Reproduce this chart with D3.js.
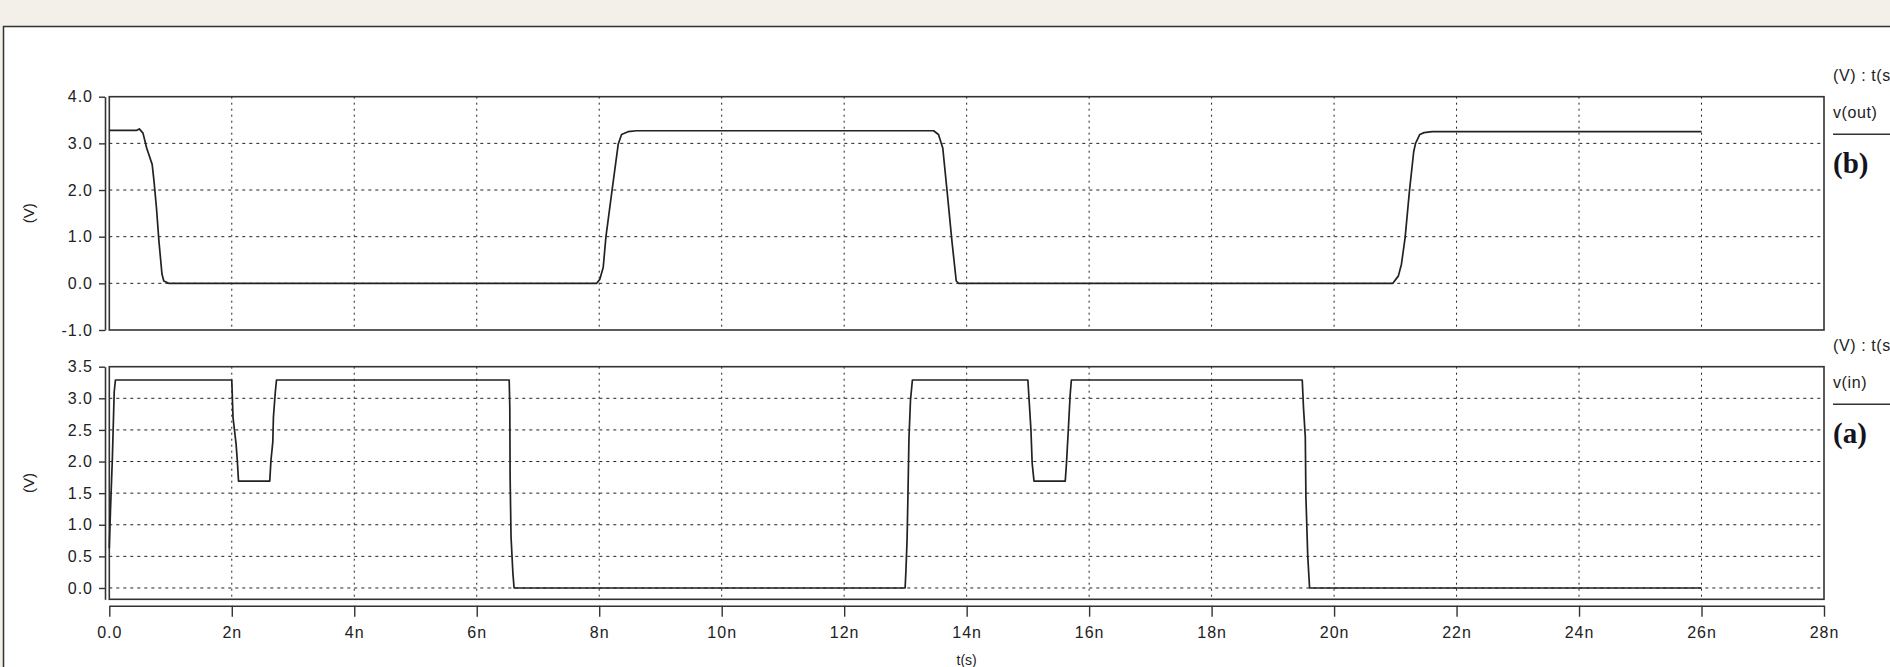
<!DOCTYPE html>
<html>
<head>
<meta charset="utf-8">
<script src="https://cdn.jsdelivr.net/npm/d3@7"></script>
<style>
  body { margin: 0; background: #f3f0e9; }
  svg { display: block; }
  text { font-family: "Liberation Sans", Arial, sans-serif; fill: #222; }
</style>
</head>
<body>
<div id="chart"></div>
<script>
// v(out) : time in ns, voltage in V
const tOut = [0, 0.45, 0.49, 0.55, 0.61, 0.7, 0.73, 0.77, 0.81, 0.86, 0.89, 0.97,
  7.96, 8.01, 8.065, 8.11, 8.21, 8.31, 8.365, 8.47, 8.61,
  13.46, 13.54, 13.61, 13.68, 13.76, 13.83, 13.87,
  20.96, 21.05, 21.1, 21.16, 21.23, 21.3, 21.33, 21.4, 21.47, 21.6, 26];
const vOut = [3.28, 3.28, 3.31, 3.22, 2.9, 2.55, 2.19, 1.62, 0.91, 0.2, 0.05, 0,
  0, 0.09, 0.34, 1.0, 2.0, 2.98, 3.19, 3.25, 3.27,
  3.27, 3.19, 2.9, 1.98, 0.9, 0.05, 0,
  0, 0.16, 0.41, 0.98, 1.97, 2.82, 3.0, 3.19, 3.23, 3.25, 3.25];

// v(in)
const tIn = [0, 0.02, 0.05, 0.08, 0.1,
  2.0, 2.02, 2.07, 2.09, 2.11, 2.62, 2.64, 2.67, 2.68, 2.71, 2.73,
  6.53, 6.54, 6.545, 6.56, 6.59, 6.61,
  12.995, 13.008, 13.027, 13.04, 13.058, 13.083, 13.114,
  15.0, 15.02, 15.05, 15.07, 15.1, 15.61, 15.63, 15.66, 15.69, 15.71,
  19.48, 19.5, 19.53, 19.54, 19.57, 19.6, 26];
const vIn = [0.63, 1.25, 2.05, 3.1, 3.29,
  3.29, 2.7, 2.28, 2.02, 1.69, 1.69, 2.02, 2.31, 2.7, 3.09, 3.29,
  3.29, 2.86, 1.76, 0.81, 0.24, 0,
  0, 0.26, 0.76, 1.39, 2.37, 2.97, 3.29,
  3.29, 2.97, 2.5, 1.97, 1.69, 1.69, 1.97, 2.5, 3.05, 3.29,
  3.29, 2.86, 2.39, 1.44, 0.5, 0, 0];

const xTicks = d3.range(0, 29, 2);
const yTicksOut = [4, 3, 2, 1, 0, -1];
const yTicksIn = [3.5, 3, 2.5, 2, 1.5, 1, 0.5, 0];

const width = 1890, height = 667;
const left = 109.3, right = 1824;

const svg = d3.select('#chart').append('svg')
  .attr('width', width)
  .attr('height', height);

// fond et cadre de la fenetre
svg.append('rect').attr('width', width).attr('height', height).attr('fill', '#f3f0e9');
svg.append('rect')
  .attr('x', 3.5).attr('y', 26.5)
  .attr('width', width + 10).attr('height', height)
  .attr('fill', '#fff').attr('stroke', '#333').attr('stroke-width', 1.5);

const x = d3.scaleLinear().domain([0, 28]).range([left, right]);
const fmtY = d => d.toFixed(1); // trait d'union simple pour -1.0

function panel(cfg) {
  const y = d3.scaleLinear().domain(cfg.domain).range([cfg.bottom, cfg.top]);
  const g = svg.append('g');

  // grille horizontale
  g.selectAll('line.hgrid')
    .data(cfg.grid)
    .enter().append('line')
    .attr('x1', left).attr('x2', right)
    .attr('y1', d => y(d)).attr('y2', d => y(d))
    .attr('stroke', '#222').attr('stroke-width', 1)
    .attr('stroke-dasharray', '3,4');

  // grille verticale
  g.selectAll('line.vgrid')
    .data(xTicks.filter(d => d > 0 && d < 28))
    .enter().append('line')
    .attr('x1', d => x(d)).attr('x2', d => x(d))
    .attr('y1', cfg.top).attr('y2', cfg.bottom)
    .attr('stroke', '#222').attr('stroke-width', 1)
    .attr('stroke-dasharray', '2,4');

  // cadre du trace
  g.append('rect')
    .attr('x', left).attr('y', cfg.top)
    .attr('width', right - left).attr('height', cfg.bottom - cfg.top)
    .attr('fill', 'none').attr('stroke', '#333').attr('stroke-width', 1.6);

  // axe Y
  const axis = g.append('g')
    .attr('transform', 'translate(105,0)')
    .call(d3.axisLeft(y).tickValues(cfg.ticks).tickFormat(fmtY)
      .tickSize(6).tickSizeOuter(0).tickPadding(6));
  axis.select('.domain').attr('stroke', '#333').attr('stroke-width', 1.6);
  axis.selectAll('.tick line').attr('stroke', '#333').attr('stroke-width', 1.4);
  axis.selectAll('text').style('font-size', '16px').style('letter-spacing', '1px').attr('fill', '#222');

  g.append('text')
    .attr('transform', `translate(34, ${(cfg.top + cfg.bottom) / 2}) rotate(-90)`)
    .style('text-anchor', 'middle')
    .style('font-size', '15px')
    .text('(V)');

  // courbe
  const pts = cfg.t.map((t, i) => [t, cfg.v[i]]);
  g.append('path')
    .datum(pts)
    .attr('fill', 'none')
    .attr('stroke', '#222')
    .attr('stroke-width', 1.7)
    .attr('stroke-linejoin', 'round')
    .attr('d', d3.line().x(d => x(d[0])).y(d => y(d[1])));

  // legende a droite
  const lg = g.append('g').attr('transform', `translate(1833, ${cfg.top})`);
  lg.append('text').attr('x', 0).attr('y', -16)
    .style('font-size', '16px').style('letter-spacing', '0.6px').text('(V) : t(s)');
  lg.append('text').attr('x', 0).attr('y', 21)
    .style('font-size', '16px').style('letter-spacing', '0.6px').text(cfg.name);
  lg.append('line')
    .attr('x1', 0).attr('x2', 80)
    .attr('y1', 37.5).attr('y2', 37.5)
    .attr('stroke', '#333').attr('stroke-width', 1.5);
  lg.append('text')
    .attr('x', 0).attr('y', 76)
    .style('font-family', '"Liberation Serif", "Times New Roman", serif')
    .style('font-weight', 'bold')
    .style('font-size', '29px')
    .style('fill', '#141420')
    .text(cfg.tag);
}

panel({ top: 96.7, bottom: 330, domain: [-1, 4], ticks: yTicksOut, grid: [3, 2, 1, 0],
  t: tOut, v: vOut, name: 'v(out)', tag: '(b)' });
panel({ top: 366.7, bottom: 599.3, domain: [-0.179, 3.5], ticks: yTicksIn,
  grid: [3, 2.5, 2, 1.5, 1, 0.5, 0], t: tIn, v: vIn, name: 'v(in)', tag: '(a)' });

// axe X
const xAxis = svg.append('g')
  .attr('transform', 'translate(0,605.7)')
  .call(d3.axisBottom(x).tickValues(xTicks)
    .tickFormat(d => d === 0 ? '0.0' : d + 'n')
    .tickSize(11).tickSizeOuter(0).tickPadding(10));
xAxis.select('.domain').attr('stroke', '#333').attr('stroke-width', 1.6);
xAxis.selectAll('.tick line').attr('stroke', '#333').attr('stroke-width', 1.4);
xAxis.selectAll('text').style('font-size', '16px').style('letter-spacing', '1px').attr('fill', '#222');

svg.append('text')
  .attr('x', (left + right) / 2)
  .attr('y', 665)
  .style('text-anchor', 'middle')
  .style('font-size', '14px')
  .text('t(s)');
</script>
</body>
</html>
